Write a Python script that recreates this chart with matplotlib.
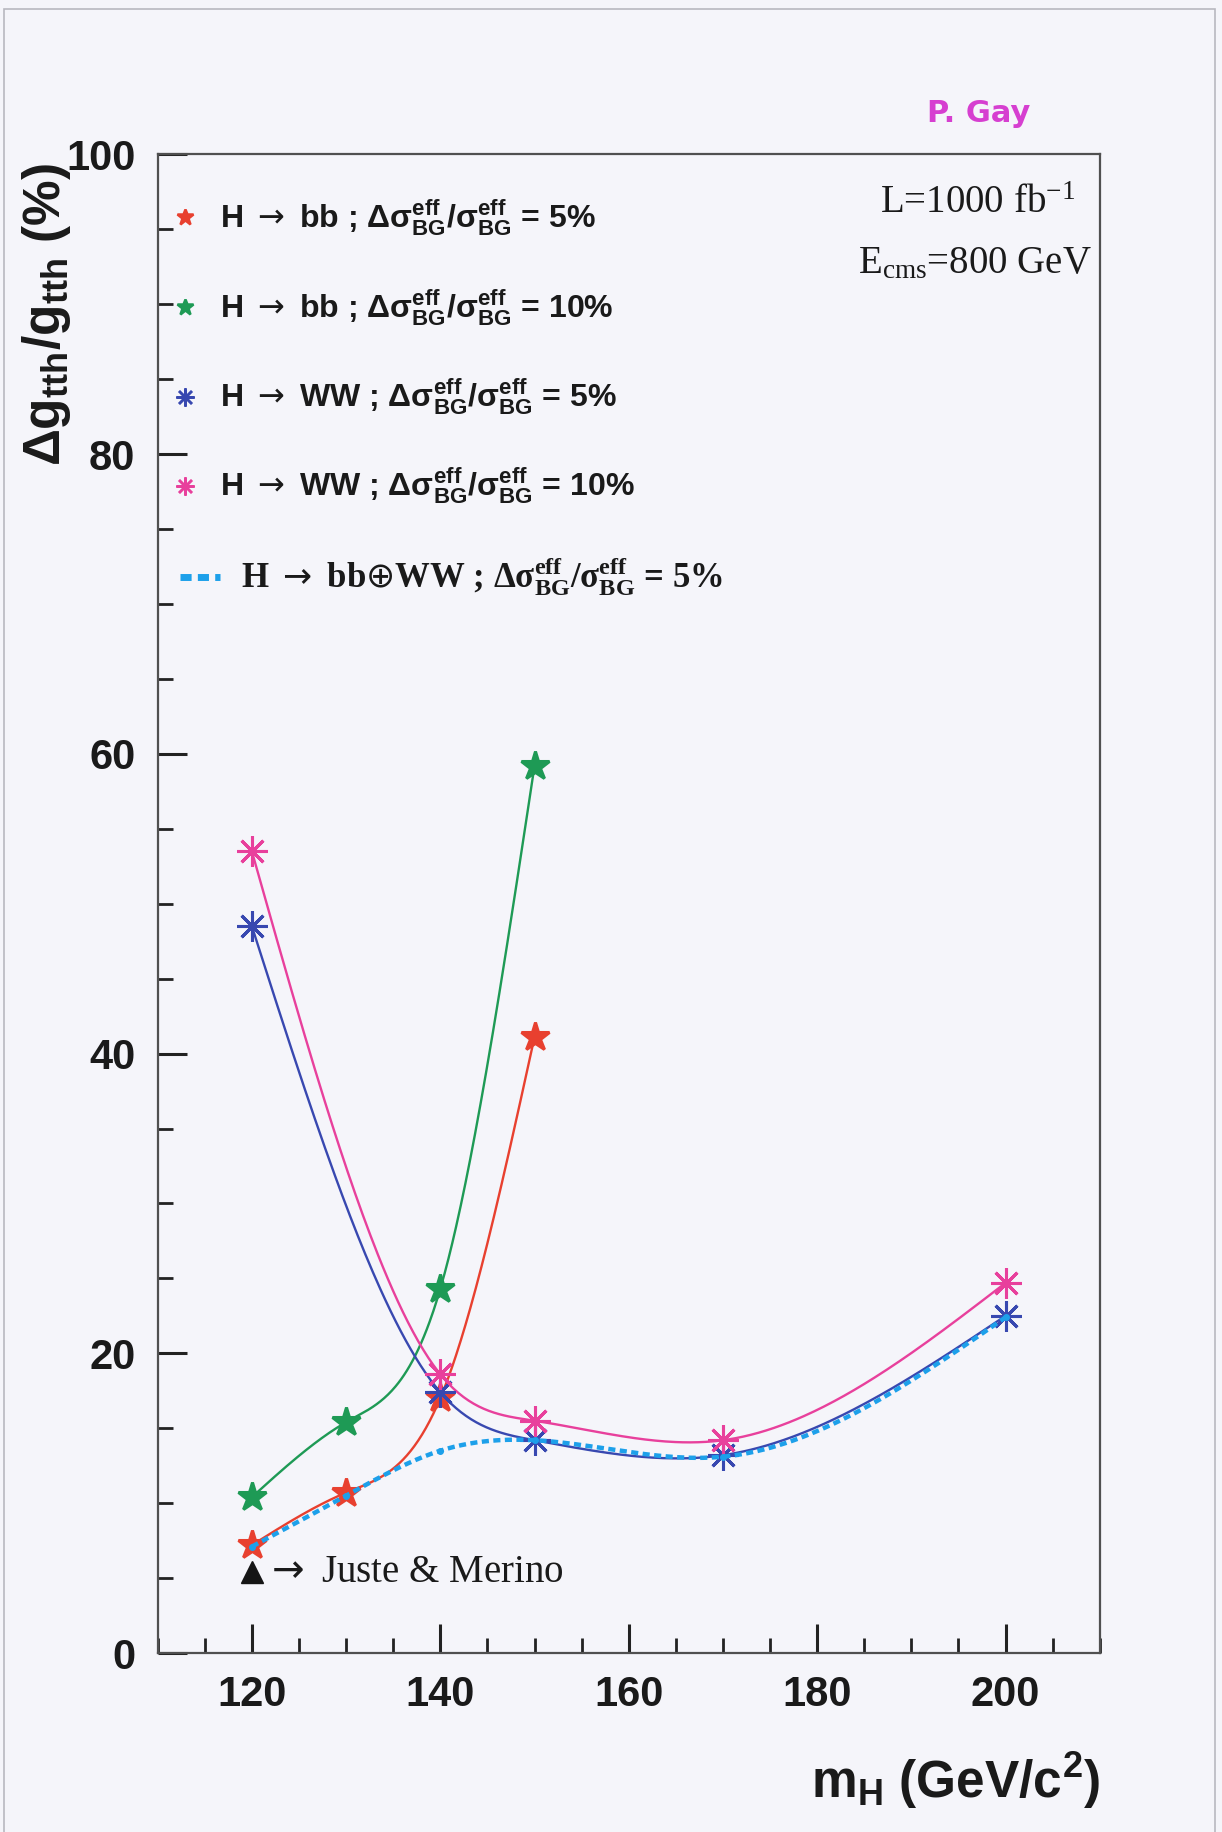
import numpy as np
import matplotlib
matplotlib.use("Agg")
import matplotlib.pyplot as plt
from matplotlib import font_manager
from matplotlib.ticker import MultipleLocator
from matplotlib.patches import Rectangle

# pick a narrow sans if it is installed
_names = {f.name for f in font_manager.fontManager.ttflist}
SANS = "Liberation Sans Narrow" if "Liberation Sans Narrow" in _names else "Liberation Sans"
SERIF = "Liberation Serif"

plt.rcParams["mathtext.fontset"] = "custom"
plt.rcParams["mathtext.rm"] = SANS + ":bold"
plt.rcParams["mathtext.it"] = SANS + ":bold"
plt.rcParams["mathtext.bf"] = SANS + ":bold"
plt.rcParams["mathtext.sf"] = SERIF + ":bold"   # bold serif pieces
plt.rcParams["mathtext.tt"] = SERIF             # plain serif pieces
plt.rcParams["mathtext.cal"] = "DejaVu Sans"    # long arrow and oplus
plt.rcParams["mathtext.default"] = "rm"

# Higgs mass points (GeV/c^2) and relative error on g_tth (%)
mh_bb = [120, 130, 140, 150]
bb_5 = [7.2, 10.7, 17.0, 41.1]
bb_10 = [10.4, 15.4, 24.3, 59.2]

mh_ww = [120, 140, 150, 170, 200]
ww_5 = [48.5, 17.4, 14.2, 13.2, 22.5]
ww_10 = [53.5, 18.6, 15.5, 14.2, 24.7]

mh_comb = [120, 130, 140, 150, 170, 200]
comb_5 = [7.1, 10.5, 13.5, 14.2, 13.1, 22.4]

juste_merino_mh = [120]
juste_merino = [5.4]

C_RED = "#e8402f"
C_GREEN = "#1e9a55"
C_BLUE = "#3848b0"
C_MAG = "#e8409c"
C_CYAN = "#1da0ea"
BG = "#f5f5fa"
INK = "#1a1a1a"
ASTER = (8, 2, 0)
ARROW = r"$\mathcal{\rightarrow}$"


def smooth(x, y, n=300):
    """natural cubic spline through the points, like ROOT's "C" draw option"""
    x = np.asarray(x, float)
    y = np.asarray(y, float)
    k = len(x)
    h = np.diff(x)
    A = np.zeros((k, k))
    r = np.zeros(k)
    A[0, 0] = A[-1, -1] = 1.0
    for i in range(1, k - 1):
        A[i, i - 1] = h[i - 1]
        A[i, i] = 2 * (h[i - 1] + h[i])
        A[i, i + 1] = h[i]
        r[i] = 6 * ((y[i + 1] - y[i]) / h[i] - (y[i] - y[i - 1]) / h[i - 1])
    M = np.linalg.solve(A, r)
    xs = np.linspace(x[0], x[-1], n)
    j = np.clip(np.searchsorted(x, xs) - 1, 0, k - 2)
    t0 = x[j + 1] - xs
    t1 = xs - x[j]
    hj = h[j]
    ys = (M[j] * t0**3 + M[j + 1] * t1**3) / (6 * hj) \
        + (y[j] / hj - M[j] * hj / 6) * t0 + (y[j + 1] / hj - M[j + 1] * hj / 6) * t1
    return xs, ys


fig = plt.figure(figsize=(12.22, 18.32), dpi=100, facecolor=BG)
ax = fig.add_axes([0.129, 0.0977, 0.771, 0.818], facecolor=BG)

for mh, vals, col, mk, ms in [
    (mh_bb, bb_5, C_RED, "*", 21),
    (mh_bb, bb_10, C_GREEN, "*", 21),
    (mh_ww, ww_5, C_BLUE, ASTER, 22),
    (mh_ww, ww_10, C_MAG, ASTER, 22),
]:
    xs, ys = smooth(mh, vals)
    ax.plot(xs, ys, color=col, lw=1.7, zorder=2)
    ax.plot(mh, vals, ls="none", marker=mk, ms=ms, color=col, mew=2.2, zorder=3)

xs, ys = smooth(mh_comb, comb_5)
ax.plot(xs, ys, color=C_CYAN, lw=3.2, dashes=(1.6, 1.0), zorder=4)
ax.plot(mh_comb, comb_5, ls="none", marker="o", ms=4, color=C_CYAN, zorder=5)

ax.plot(juste_merino_mh, juste_merino, ls="none", marker="^", ms=16, color="#151515", zorder=5)

ax.set_xlim(110, 210)
ax.set_ylim(0, 100)
ax.set_xticks([120, 140, 160, 180, 200])
ax.set_yticks([0, 20, 40, 60, 80, 100])
ax.xaxis.set_minor_locator(MultipleLocator(5))
ax.yaxis.set_minor_locator(MultipleLocator(5))
ax.tick_params(which="both", direction="in", top=False, right=False, color="#222222")
ax.tick_params(which="major", length=21, width=2.2, labelsize=30, pad=16, labelcolor=INK)
ax.tick_params(which="minor", length=11, width=2.0)
for lab in ax.get_xticklabels() + ax.get_yticklabels():
    lab.set_fontfamily(SANS)
    lab.set_fontweight("bold")
for sp in ax.spines.values():
    sp.set_color("#505050")
    sp.set_linewidth(1.6)

# key for the five curves
rows = [0.958, 0.898, 0.838, 0.779]
frac = r"$\Delta\sigma^{eff}_{BG}/\sigma^{eff}_{BG}$"
keys = [
    (C_RED, "*", 12, "H " + ARROW + " bb ; " + frac + " = 5%"),
    (C_GREEN, "*", 12, "H " + ARROW + " bb ; " + frac + " = 10%"),
    (C_BLUE, ASTER, 13, "H " + ARROW + " WW ; " + frac + " = 5%"),
    (C_MAG, ASTER, 13, "H " + ARROW + " WW ; " + frac + " = 10%"),
]
for yr, (col, mk, ms, txt) in zip(rows, keys):
    ax.plot([0.029], [yr], transform=ax.transAxes, marker=mk, ms=ms, color=col,
            mew=1.8, ls="none", clip_on=False)
    ax.text(0.066, yr, txt, transform=ax.transAxes, fontsize=23,
            fontfamily=SANS, fontweight="bold", va="center", ha="left", color=INK)

ax.plot([0.024, 0.066], [0.718, 0.718], transform=ax.transAxes, color=C_CYAN,
        lw=5, dashes=(1.6, 0.9), solid_capstyle="butt", clip_on=False)
ax.text(0.089, 0.718,
        "H " + ARROW + r" bb$\mathcal{\oplus}$WW ; "
        r"$\mathsf{\Delta\sigma^{eff}_{BG}/\sigma^{eff}_{BG}}$ = 5%",
        transform=ax.transAxes, fontsize=25, fontfamily=SERIF,
        fontweight="bold", va="center", ha="left", color=INK)

ax.text(0.974, 0.967, r"L=1000 fb$\mathtt{^{-1}}$", transform=ax.transAxes,
        fontsize=28, fontfamily=SERIF, ha="right", va="center", color=INK)
ax.text(0.991, 0.927, r"E$\mathtt{_{cms}}$=800 GeV", transform=ax.transAxes,
        fontsize=28, fontfamily=SERIF, ha="right", va="center", color=INK)

ax.text(0.114, 0.054, ARROW + " Juste & Merino", transform=ax.transAxes,
        fontsize=28, fontfamily=SERIF, ha="left", va="center", color=INK)

fig.text(0.038, 0.911, r"$\Delta$g$_{tth}$/g$_{tth}$ (%)", rotation=90,
         fontsize=37, fontfamily=SANS, fontweight="bold", ha="center", va="top",
         color=INK)
fig.text(0.900, 0.028, r"m$_{H}$ (GeV/c$^{2}$)", fontsize=37, fontfamily=SANS,
         fontweight="bold", ha="right", va="center", color=INK)

fig.text(0.801, 0.938, "P. Gay", fontsize=22, fontfamily="DejaVu Sans",
         fontweight="bold", color="#d63fd0", ha="center", va="center")

# scanned page edge
fig.patches.append(Rectangle((0.003, -0.01), 0.991, 1.005, transform=fig.transFigure,
                             fill=False, ec="#b8b8c0", lw=1.2))

fig.savefig("out.png", dpi=100, facecolor=BG)
